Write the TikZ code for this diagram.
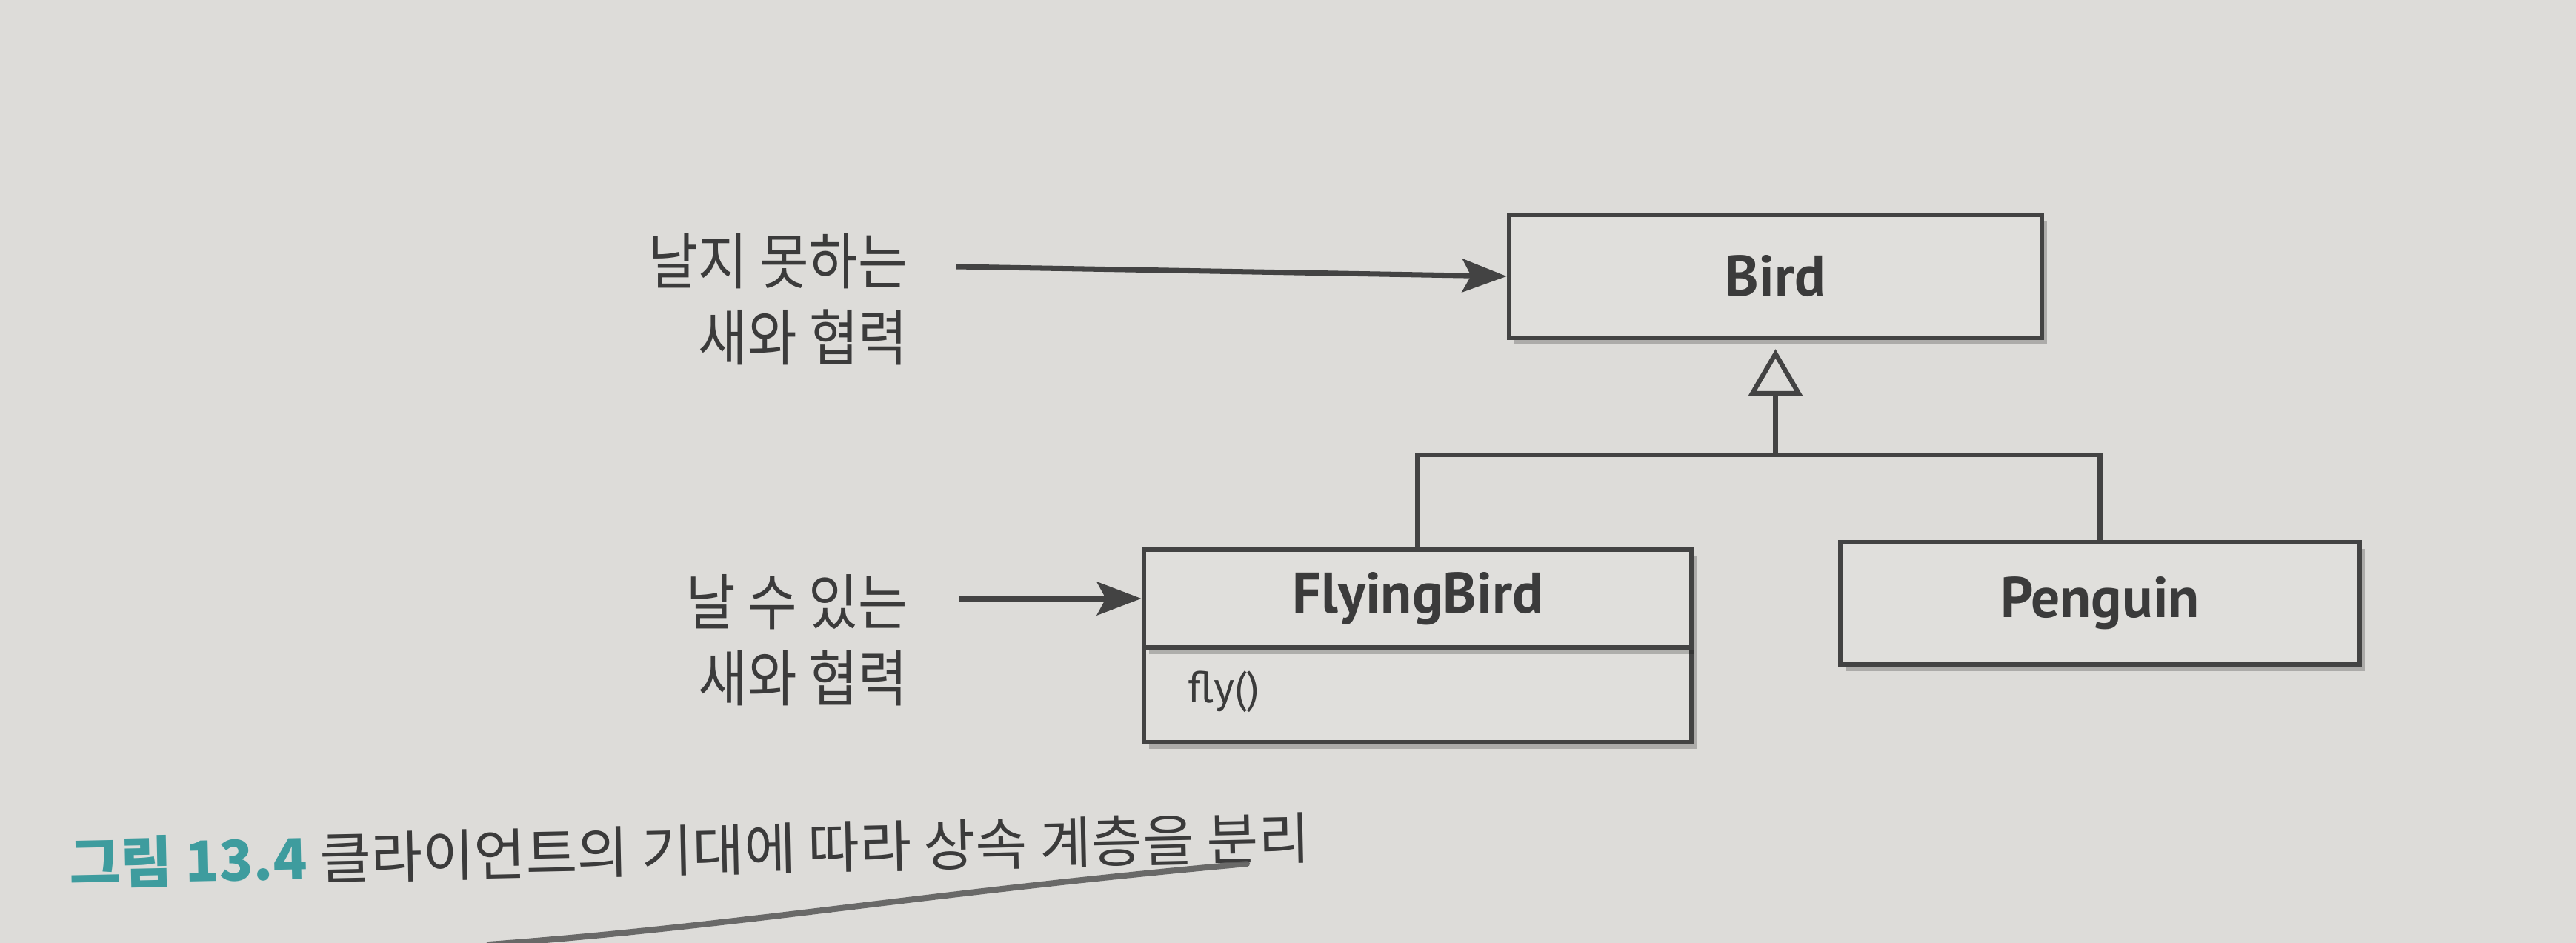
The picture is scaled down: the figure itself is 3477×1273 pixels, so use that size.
\documentclass[tikz,border=0pt]{standalone}
\usepackage{fontspec}
\setmainfont{PT Sans}
\newfontfamily\krl[FakeStretch=0.88]{Noto Sans CJK KR}
\newfontfamily\krc{Noto Sans CJK KR}
\usetikzlibrary{arrows.meta,shadows}
\definecolor{bgc}{HTML}{DDDCD9}
\definecolor{boxc}{HTML}{E0DFDC}
\definecolor{linec}{HTML}{434343}
\definecolor{txtc}{HTML}{3B3B3B}
\definecolor{capteal}{HTML}{3E9C9E}
\definecolor{pencilc}{HTML}{555555}
\tikzset{
  cls/.style={draw=linec, line width=1.8pt, fill=boxc, text=txtc, inner sep=0pt,
    font=\bfseries\fontsize{22}{26}\selectfont,
    drop shadow={shadow xshift=0.07cm, shadow yshift=-0.09cm, fill=black, opacity=0.22}},
  member/.style={text=txtc, inner sep=0pt, font=\fontsize{17}{20}\selectfont},
  lbl/.style={text=txtc, inner sep=0pt, align=right, font=\krl\fontsize{23.4}{29.3}\selectfont},
  conn/.style={draw=linec, line width=1.8pt},
  callarrow/.style={draw=linec, line width=2pt, -{Stealth[length=0.6cm, width=0.45cm, inset=0.12cm]}},
  inherit/.style={conn, -{Triangle[open, length=0.63cm, width=0.72cm, line width=1.8pt]}, shorten >=0.12cm},
  pencil/.style={draw=pencilc, line width=2.3pt, line cap=round, opacity=0.85}
}
\begin{document}
\begin{tikzpicture}[x=0.01cm, y=-0.01cm]
\fill[bgc] (0,0) rectangle (3477,1273);
\useasboundingbox (0,0) rectangle (3477,1273);

% classes
\node[cls, minimum width=7.19cm, minimum height=1.66cm] (bird) at (2396.5,373) {Bird};
\node[cls, minimum width=7.39cm, minimum height=1.28cm] (fbm) at (1913.5,938) {};
\node[cls, minimum width=7.39cm, minimum height=1.32cm] (fbt) at (1913.5,808) {FlyingBird};
\node[member, anchor=west] (fly) at (1603,934) {fly()};
\node[cls, minimum width=7.01cm, minimum height=1.65cm] (peng) at (2834.5,814.5) {Penguin};

% inheritance
\coordinate (j) at (2396.5,614);
\draw[conn] (fbt.north) |- (j) -| (peng.north);
\draw[inherit] (j) -- (bird.south);

% labels
\node[lbl, anchor=east] (l1) at (1226,404) {날지 못하는\\새와 협력};
\node[lbl, anchor=east] (l2) at (1226,864) {날 수 있는\\새와 협력};
\coordinate (a1) at (1291,360);
\coordinate (a2) at (1294,808);
\draw[callarrow] (a1) -- (bird.west);
\draw[callarrow] (a2) -- (fbt.west);

% caption
\node[anchor=west, inner sep=0pt, text=txtc, rotate=1.2, font=\krc\fontsize{21.5}{24}\selectfont] (cap) at (93,1165)
  {{\color{capteal}\bfseries 그림 13.4} 클라이언트의 기대에 따라 상속 계층을 분리};

% pencil underline
\draw[pencil] (660,1275) .. controls (1000,1250) and (1250,1205) .. (1683,1166);
\end{tikzpicture}
\end{document}
